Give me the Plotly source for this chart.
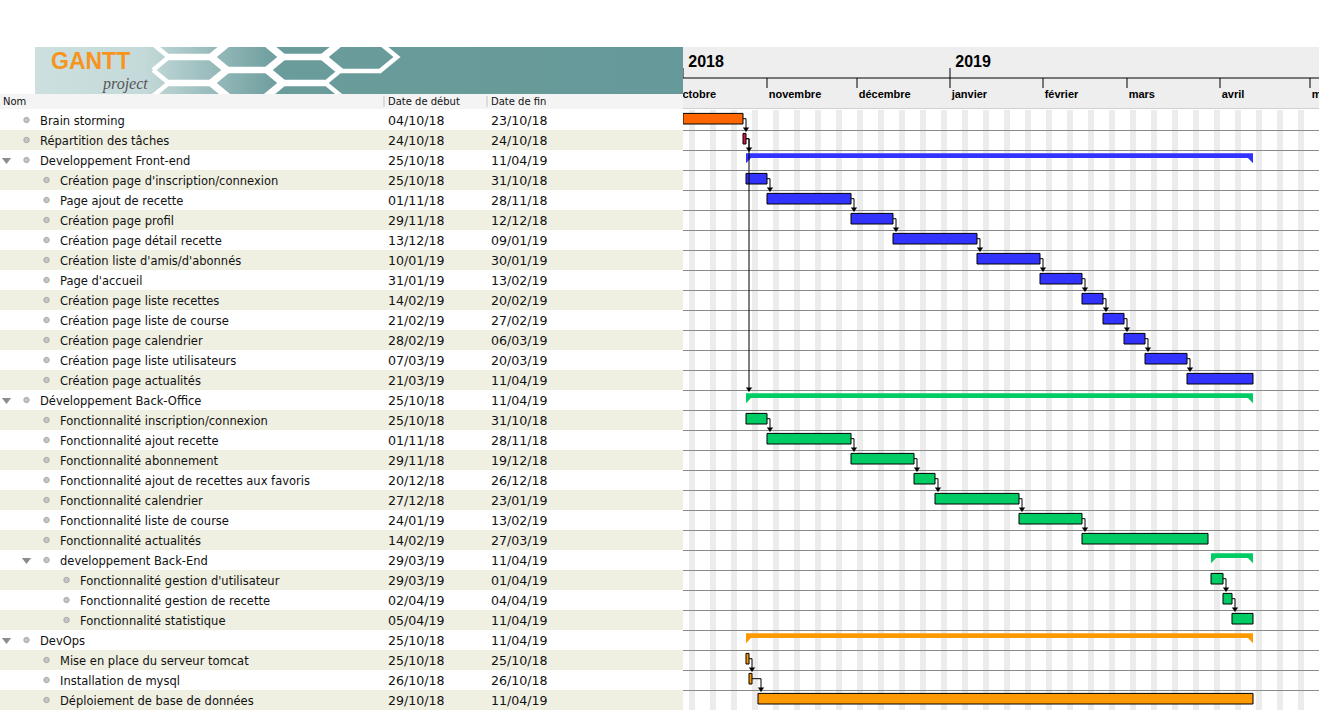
import numpy as np
import pandas as pd
import plotly.graph_objects as go

# ---------------- data ----------------
task_names = [
    "Brain storming",
    "Répartition des tâches",
    "Developpement Front-end",
    "Création page d'inscription/connexion",
    "Page ajout de recette",
    "Création page profil",
    "Création page détail recette",
    "Création liste d'amis/d'abonnés",
    "Page d'accueil",
    "Création page liste recettes",
    "Création page liste de course",
    "Création page calendrier",
    "Création page liste utilisateurs",
    "Création page actualités",
    "Développement Back-Office",
    "Fonctionnalité inscription/connexion",
    "Fonctionnalité ajout recette",
    "Fonctionnalité abonnement",
    "Fonctionnalité ajout de recettes aux favoris",
    "Fonctionnalité calendrier",
    "Fonctionnalité liste de course",
    "Fonctionnalité actualités",
    "developpement Back-End",
    "Fonctionnalité gestion d'utilisateur",
    "Fonctionnalité gestion de recette",
    "Fonctionnalité statistique",
    "DevOps",
    "Mise en place du serveur tomcat",
    "Installation de mysql",
    "Déploiement de base de données",
]
task_levels = [0, 0, 0, 1, 1, 1, 1, 1, 1, 1, 1, 1, 1, 1,
               0, 1, 1, 1, 1, 1, 1, 1, 1, 2, 2, 2,
               0, 1, 1, 1]
start_dates = ["04/10/18", "24/10/18", "25/10/18", "25/10/18", "01/11/18", "29/11/18",
               "13/12/18", "10/01/19", "31/01/19", "14/02/19", "21/02/19", "28/02/19",
               "07/03/19", "21/03/19", "25/10/18", "25/10/18", "01/11/18", "29/11/18",
               "20/12/18", "27/12/18", "24/01/19", "14/02/19", "29/03/19", "29/03/19",
               "02/04/19", "05/04/19", "25/10/18", "25/10/18", "26/10/18", "29/10/18"]
end_dates = ["23/10/18", "24/10/18", "11/04/19", "31/10/18", "28/11/18", "12/12/18",
             "09/01/19", "30/01/19", "13/02/19", "20/02/19", "27/02/19", "06/03/19",
             "20/03/19", "11/04/19", "11/04/19", "31/10/18", "28/11/18", "19/12/18",
             "26/12/18", "23/01/19", "13/02/19", "27/03/19", "11/04/19", "01/04/19",
             "04/04/19", "11/04/19", "11/04/19", "25/10/18", "26/10/18", "11/04/19"]
task_is_summary = [False, False, True] + [False] * 11 + [True] + [False] * 7 + [True] + \
                  [False] * 3 + [True] + [False] * 3
task_groups = ["brain", "split"] + ["front"] * 12 + ["back"] * 12 + ["devops"] * 4
dependencies = [(0, 1), (1, 2), (1, 14),
                (3, 4), (4, 5), (5, 6), (6, 7), (7, 8), (8, 9), (9, 10), (10, 11),
                (11, 12), (12, 13),
                (15, 16), (16, 17), (17, 18), (18, 19), (19, 20), (20, 21),
                (23, 24), (24, 25),
                (27, 28), (28, 29)]
column_headers = ["Nom", "Date de début", "Date de fin"]
month_labels = ["octobre", "novembre", "décembre", "janvier", "février", "mars", "avril", "mai"]
month_starts = ["2018-10-01", "2018-11-01", "2018-12-01", "2019-01-01", "2019-02-01",
                "2019-03-01", "2019-04-01", "2019-05-01"]
year_labels = ["2018", "2019"]
year_starts = ["2018-10-04", "2019-01-01"]
view_start, view_end = "2018-10-04", "2019-05-04"

# ---------------- style ----------------
group_colors = {"brain": "#ff6600", "split": "#dc143c", "front": "#3333ff",
                "back": "#00cc66", "devops": "#ff9900"}
W, H = 1319, 710
X_SPLIT = 683
BODY_TOP = 110
HDR_TOP, HDR_BOT = 47, 108
BANNER_L, BANNER_BOT = 35, 94
ROW_PX = 20
PX_PER_DAY = 3
BEIGE = "#efefe2"
TXT_FONT = "DejaVu Sans"
TEXT_DY = 0.1  # vertical nudge of table text, in rows

n = len(task_names)
day = pd.Timedelta(days=1)
starts = pd.to_datetime(start_dates, format="%d/%m/%y")
ends = pd.to_datetime(end_dates, format="%d/%m/%y") + day
x0v, x1v = pd.Timestamp(view_start), pd.Timestamp(view_end)


def py(px):
    return 1 - px / H


def rows(px):  # pixel offset -> row units
    return px / ROW_PX


def days(px):
    return pd.Timedelta(days=px / PX_PER_DAY)


fig = go.Figure()
shapes = []
annotations = []

# ---------- backgrounds ----------
shapes.append(dict(type="rect", xref="paper", yref="paper", x0=X_SPLIT / W, x1=1,
                   y0=py(HDR_BOT), y1=py(HDR_TOP), fillcolor="#eeeeee", line_width=0,
                   layer="below"))
shapes.append(dict(type="line", xref="paper", yref="paper", x0=X_SPLIT / W, x1=1,
                   y0=py(HDR_BOT + 0.5), y1=py(HDR_BOT + 0.5), line=dict(color="#d0d0d0", width=1)))
shapes.append(dict(type="rect", xref="paper", yref="paper", x0=0, x1=X_SPLIT / W,
                   y0=py(BODY_TOP - 1), y1=py(BANNER_BOT), fillcolor="#f4f4f4", line_width=0,
                   layer="below"))
for sep in (384, 487):
    shapes.append(dict(type="line", xref="paper", yref="paper", x0=sep / W, x1=sep / W,
                       y0=py(107), y1=py(96), line=dict(color="#c4c4c4", width=1)))
for i in range(n):
    if i % 2 == 1:
        shapes.append(dict(type="rect", xref="x4", yref="y4", x0=0, x1=X_SPLIT,
                           y0=i - 0.5, y1=i + 0.5, fillcolor=BEIGE, line_width=0, layer="below"))
for sat in pd.date_range(x0v, x1v, freq="W-SAT"):
    shapes.append(dict(type="rect", xref="x", yref="y", x0=sat, x1=min(sat + 2 * day, x1v),
                       y0=-0.5, y1=n - 0.5, fillcolor="#ececec", line_width=0, layer="below"))

# ---------- timeline header ----------
shapes.append(dict(type="line", xref="x", yref="y2", x0=x0v, x1=x1v, y0=78, y1=78,
                   line=dict(color="black", width=1)))
for ys in year_starts:
    shapes.append(dict(type="line", xref="x", yref="y2", x0=ys, x1=ys, y0=68, y1=78,
                       line=dict(color="black", width=1)))
for ms in month_starts:
    if x0v <= pd.Timestamp(ms) <= x1v:
        shapes.append(dict(type="line", xref="x", yref="y2", x0=ms, x1=ms, y0=78, y1=88,
                           line=dict(color="black", width=1)))
fig.add_trace(go.Scatter(
    x=[pd.Timestamp(m) + days(1.7) for m in month_starts], y=[95] * len(month_starts),
    text=month_labels, mode="text", textposition="middle right", cliponaxis=True,
    textfont=dict(family="Liberation Sans", size=11, color="black", weight="bold"),
    xaxis="x", yaxis="y2", hoverinfo="skip"))
fig.add_trace(go.Scatter(
    x=[pd.Timestamp(y) + days(5.3) for y in year_starts], y=[63] * len(year_starts),
    text=year_labels, mode="text", textposition="middle right", cliponaxis=True,
    textfont=dict(family="Liberation Sans", size=16, color="black", weight="bold"),
    xaxis="x", yaxis="y2", hoverinfo="skip"))

# ---------- task bars ----------
BAR_TOP, BAR_H = -0.33, 0.53
for grp, col in group_colors.items():
    idx = [i for i in range(n) if task_groups[i] == grp and not task_is_summary[i]]
    if not idx:
        continue
    fig.add_trace(go.Bar(
        orientation="h", y=idx, base=[starts[i] for i in idx],
        x=[(ends[i] - starts[i]).total_seconds() * 1000 for i in idx],
        width=BAR_H, offset=BAR_TOP,
        marker=dict(color=col, line=dict(color="black", width=1)),
        xaxis="x", yaxis="y", hoverinfo="skip"))

tri = days(5)
for i in range(n):
    if not task_is_summary[i]:
        continue
    s, e = starts[i], ends[i]
    top, bb, tb = i - 0.335, i - 0.1, i + 0.16
    fig.add_trace(go.Scatter(
        x=[s, e, e, e - tri, s + tri, s, s], y=[top, top, tb, bb, bb, tb, top],
        mode="lines", fill="toself", fillcolor=group_colors[task_groups[i]],
        line=dict(width=0, color=group_colors[task_groups[i]]),
        xaxis="x", yaxis="y", hoverinfo="skip"))

dx, dy, ax, ay = [], [], [], []
for p, q in dependencies:
    yc = p + BAR_TOP + BAR_H / 2
    xa = starts[q] + day
    tip = q - 0.5 + rows(1.5)
    dx += [ends[p], xa, xa, None]
    dy += [yc, yc, tip, None]
    ax.append(xa)
    ay.append(q - 0.5 - rows(1.0))
fig.add_trace(go.Scatter(x=dx, y=dy, mode="lines", line=dict(color="black", width=1),
                         xaxis="x", yaxis="y", hoverinfo="skip"))
fig.add_trace(go.Scatter(x=ax, y=ay, mode="markers",
                         marker=dict(symbol="triangle-down", size=5.5, color="black"),
                         xaxis="x", yaxis="y", hoverinfo="skip"))

# ---------- left table ----------
rows_idx = list(range(n))
text_y = [i + TEXT_DY for i in rows_idx]
fig.add_trace(go.Scatter(
    x=[40 + 20 * lv for lv in task_levels], y=text_y, text=task_names,
    mode="text", textposition="middle right",
    textfont=dict(family=TXT_FONT, size=11.5, color="#111111"),
    xaxis="x4", yaxis="y4", hoverinfo="skip"))
fig.add_trace(go.Scatter(
    x=[388] * n, y=text_y, text=start_dates, mode="text", textposition="middle right",
    textfont=dict(family=TXT_FONT, size=12.6, color="#111111"),
    xaxis="x4", yaxis="y4", hoverinfo="skip"))
fig.add_trace(go.Scatter(
    x=[491] * n, y=text_y, text=end_dates, mode="text", textposition="middle right",
    textfont=dict(family=TXT_FONT, size=12.6, color="#111111"),
    xaxis="x4", yaxis="y4", hoverinfo="skip"))
fig.add_trace(go.Scatter(
    x=[26.5 + 20 * lv for lv in task_levels], y=rows_idx, mode="markers",
    marker=dict(symbol="circle", size=5.5, color="#c4c4c4", line=dict(color="#9a9a9a", width=0.7)),
    xaxis="x4", yaxis="y4", hoverinfo="skip"))
par = [i for i in range(n) if task_is_summary[i]]
fig.add_trace(go.Scatter(
    x=[6.5 + 20 * task_levels[i] for i in par], y=par, mode="markers",
    marker=dict(symbol="triangle-down", size=8, color="#8c8c8c"),
    xaxis="x4", yaxis="y4", hoverinfo="skip"))

for txt, xp in zip(column_headers, (3, 388, 491)):
    annotations.append(dict(text=txt, xref="paper", yref="paper", x=(xp - 2) / W, y=py(101.5),
                            xanchor="left", yanchor="middle", showarrow=False,
                            font=dict(family=TXT_FONT, size=10, color="#111111")))

# ---------- banner ----------
fig.add_trace(go.Scatter(
    x=[BANNER_L, X_SPLIT, X_SPLIT, BANNER_L, BANNER_L],
    y=[HDR_TOP, HDR_TOP, BANNER_BOT, BANNER_BOT, HDR_TOP],
    mode="lines", fill="toself", line=dict(width=0),
    fillgradient=dict(type="horizontal",
                      colorscale=[[0, "#cde0e0"], [0.17, "#c4d9d9"], [0.38, "#6b9c9c"],
                                  [1, "#669999"]]),
    xaxis="x3", yaxis="y3", hoverinfo="skip"))
hx, hy = [], []
for cx, cy in [(191, 44), (191, 70), (191, 96), (247, 57), (247, 83),
               (303, 44), (303, 70), (303, 96), (359, 57)]:
    pts = [(-38, 0), (-21, -14), (21, -14), (38, 0), (21, 14), (-21, 14), (-38, 0)]
    hx += [cx + a for a, b in pts] + [None]
    hy += [cy + b for a, b in pts] + [None]
fig.add_trace(go.Scatter(x=hx, y=hy, mode="lines", line=dict(color="white", width=4.5),
                         xaxis="x3", yaxis="y3", hoverinfo="skip"))
annotations.append(dict(text="<b>GANTT</b>", xref="x3", yref="y3", x=50, y=61,
                        xanchor="left", yanchor="middle", showarrow=False, borderpad=0,
                        font=dict(family="Liberation Sans", size=23, color="#f7941d")))
annotations.append(dict(text="<i>project</i>", xref="x3", yref="y3", x=101, y=84,
                        xanchor="left", yanchor="middle", showarrow=False, borderpad=0,
                        font=dict(family="Liberation Serif", size=16, color="#555555")))

# ---------- layout ----------
fig.update_layout(
    width=W, height=H, margin=dict(l=0, r=0, t=0, b=0), autosize=False,
    paper_bgcolor="white", plot_bgcolor="rgba(0,0,0,0)", showlegend=False,
    barmode="overlay", hovermode=False, shapes=shapes, annotations=annotations,
    xaxis=dict(type="date", domain=[X_SPLIT / W, 1], range=[x0v, x1v], anchor="y",
               showticklabels=False, showgrid=False, zeroline=False, showline=False, ticks=""),
    yaxis=dict(domain=[0, py(BODY_TOP)], range=[n - 0.5, -0.5], anchor="x",
               tickvals=[i + 0.5 for i in range(n)], showticklabels=False, ticks="",
               showgrid=True, gridcolor="#8a8a8a", gridwidth=1, zeroline=False),
    yaxis2=dict(domain=[py(HDR_BOT), py(HDR_TOP)], range=[HDR_BOT, HDR_TOP], anchor="x",
                showticklabels=False, showgrid=False, zeroline=False, ticks=""),
    xaxis3=dict(domain=[BANNER_L / W, X_SPLIT / W], range=[BANNER_L, X_SPLIT], anchor="y3",
                showticklabels=False, showgrid=False, zeroline=False, ticks=""),
    yaxis3=dict(domain=[py(BANNER_BOT), py(HDR_TOP)], range=[BANNER_BOT, HDR_TOP], anchor="x3",
                showticklabels=False, showgrid=False, zeroline=False, ticks=""),
    xaxis4=dict(domain=[0, X_SPLIT / W], range=[0, X_SPLIT], anchor="y4",
                showticklabels=False, showgrid=False, zeroline=False, ticks=""),
    yaxis4=dict(domain=[0, py(BODY_TOP)], range=[n - 0.5, -0.5], anchor="x4",
                showticklabels=False, showgrid=False, zeroline=False, ticks=""),
)

fig.write_html("out.html", config={"displayModeBar": False})
